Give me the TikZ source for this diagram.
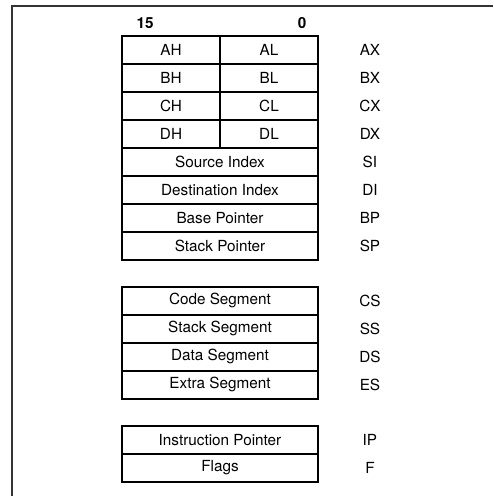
\documentclass[tikz,border=0pt]{standalone}
\usepackage{fontspec}
\setmainfont{TeX Gyre Heros}
\usetikzlibrary{
	positioning
}

\begin{document}
\begin{tikzpicture}[
			x=0.02cm,
			y=-0.02cm,
			node distance=0pt,
			font=\fontsize{8.7}{10}\selectfont,
			half/.style={
				draw,
				line width=0.8pt,
				outer sep=0pt,
				inner sep=0pt,
				minimum width=1.96cm,
				minimum height=0.56cm
			},
			full/.style={
				half,
				minimum width=3.92cm
			},
			reglabel/.style={
				inner sep=0pt,
				anchor=center
			},
			bitnum/.style={
				inner sep=0pt,
				font=\fontsize{8.7}{10}\selectfont\bfseries
			},
			frame/.style={line width=1.1pt,black!80}
			]
			
			\useasboundingbox (0,0) rectangle (493,496);
			\draw[frame] (493,6) -- (12,6) -- (12,496);
			
			% general registers
			\node[half] (AH) at (171,50) {AH};
			\node[half,right=of AH] (AL) {AL};
			\node[half,below=of AH] (BH) {BH};
			\node[half,right=of BH] (BL) {BL};
			\node[half,below=of BH] (CH) {CH};
			\node[half,right=of CH] (CL) {CL};
			\node[half,below=of CH] (DH) {DH};
			\node[half,right=of DH] (DL) {DL};
			
			\node[full,anchor=north west] (SI) at (DH.south west) {Source Index};
			\node[full,below=of SI] (DI) {Destination Index};
			\node[full,below=of DI] (BP) {Base Pointer};
			\node[full,below=of BP] (SP) {Stack Pointer};
			
			% segment registers
			\node[full,below=0.54cm of SP] (CS) {Code Segment};
			\node[full,below=of CS] (SS) {Stack Segment};
			\node[full,below=of SS] (DS) {Data Segment};
			\node[full,below=of DS] (ES) {Extra Segment};
			
			% instruction pointer and flags
			\node[full,below=0.54cm of ES] (IP) {Instruction Pointer};
			\node[full,below=of IP] (F) {Flags};
			
			% bit numbers
			\node[bitnum] (msb) at (145,23) {15};
			\node[bitnum] (lsb) at (302,23) {0};
			
			% register names
			\node[reglabel,right=1.04cm of AL.east,anchor=center] (AX) {AX};
			\node[reglabel,right=1.04cm of BL.east,anchor=center] (BX) {BX};
			\node[reglabel,right=1.04cm of CL.east,anchor=center] (CX) {CX};
			\node[reglabel,right=1.04cm of DL.east,anchor=center] (DX) {DX};
			\node[reglabel,right=1.04cm of SI.east,anchor=center] (nSI) {SI};
			\node[reglabel,right=1.04cm of DI.east,anchor=center] (nDI) {DI};
			\node[reglabel,right=1.04cm of BP.east,anchor=center] (nBP) {BP};
			\node[reglabel,right=1.04cm of SP.east,anchor=center] (nSP) {SP};
			\node[reglabel,right=1.04cm of CS.east,anchor=center] (nCS) {CS};
			\node[reglabel,right=1.04cm of SS.east,anchor=center] (nSS) {SS};
			\node[reglabel,right=1.04cm of DS.east,anchor=center] (nDS) {DS};
			\node[reglabel,right=1.04cm of ES.east,anchor=center] (nES) {ES};
			\node[reglabel,right=1.04cm of IP.east,anchor=center] (nIP) {IP};
			\node[reglabel,right=1.04cm of F.east,anchor=center] (nF) {F};
			
		\end{tikzpicture}
\end{document}
